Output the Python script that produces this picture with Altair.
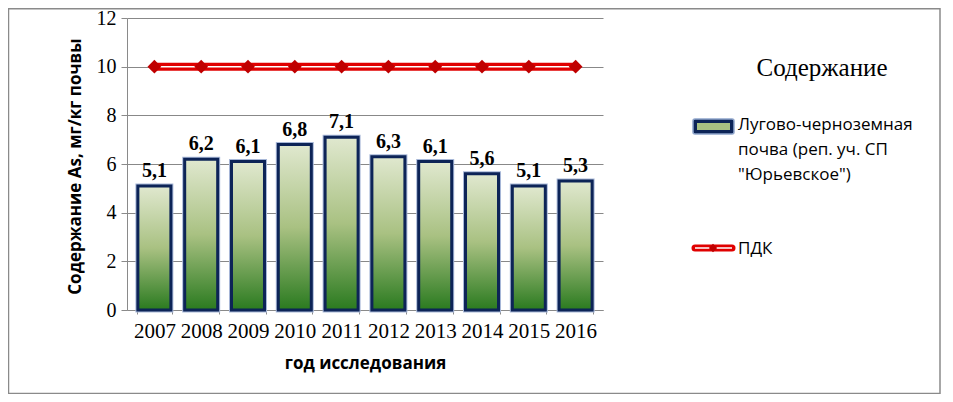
import altair as alt
import pandas as pd

years = ["2007", "2008", "2009", "2010", "2011", "2012", "2013", "2014", "2015", "2016"]
soil_values = [5.1, 6.2, 6.1, 6.8, 7.1, 6.3, 6.1, 5.6, 5.1, 5.3]
pdk_values = [10, 10, 10, 10, 10, 10, 10, 10, 10, 10]
legend_title = "Содержание"
series_soil = ["Лугово-черноземная", "почва (реп. уч. СП", "\"Юрьевское\")"]
series_pdk = "ПДК"

df = pd.DataFrame({"year": years, "soil": soil_values, "pdk": pdk_values})

W, H = 476, 292
SERIF = "Liberation Serif"
SANS = "Open Sans"

x_enc = alt.X("year:N", sort=years,
              scale=alt.Scale(paddingInner=0.25, paddingOuter=0.21),
              axis=alt.Axis(title="год исследования", labelAngle=0, labelFont=SERIF,
                            labelFontSize=21, labelColor="#000", labelPadding=6,
                            ticks=True, tickSize=4, tickColor="#8a8a8a", tickBand="extent",
                            domainColor="#8a8a8a", titleFont=SANS, titleFontSize=17,
                            titleFontWeight="bold", titleColor="#000", titlePadding=14))
y_scale = alt.Scale(domain=[0, 12], nice=False)
y_axis = alt.Axis(title="Содержание As, мг/кг почвы", values=[0, 2, 4, 6, 8, 10, 12],
                  labelFont=SERIF, labelFontSize=20, labelColor="#000", labelPadding=5,
                  tickSize=6, tickColor="#8a8a8a", domainColor="#8a8a8a",
                  gridColor="#888888", gridOpacity=1, gridWidth=1, grid=True,
                  titleFont=SANS, titleFontSize=17, titleFontWeight="bold", titleColor="#000",
                  titleX=-52, titleY=148, titleAngle=-90, titleAlign="center",
                  titleBaseline="middle")

base = alt.Chart(df)

bar_outer = base.mark_bar(fill="#b9c8e0", stroke="#a8b8d8", strokeWidth=5, size=33).encode(
    x=x_enc, y=alt.Y("soil:Q", scale=y_scale, axis=y_axis))
bar_inner = base.mark_bar(
    size=33, stroke="#0d2457", strokeWidth=3,
    color=alt.Gradient(gradient="linear", x1=0, y1=0, x2=0, y2=1,
                       stops=[alt.GradientStop(color="#e0e8cf", offset=0),
                              alt.GradientStop(color="#a9c182", offset=0.5),
                              alt.GradientStop(color="#2a7a1f", offset=1)])).encode(
    x=alt.X("year:N", sort=years), y=alt.Y("soil:Q", scale=y_scale))

labels = base.transform_calculate(
    lab="replace(format(datum.soil, '.1f'), '.', ',')").mark_text(
    font=SERIF, fontSize=20, fontWeight="bold", color="#000", dy=-15).encode(
    x=alt.X("year:N", sort=years), y=alt.Y("soil:Q", scale=y_scale), text="lab:N")

line_red = base.mark_line(color="#e00000", strokeWidth=8).encode(
    x=alt.X("year:N", sort=years), y=alt.Y("pdk:Q", scale=y_scale))
line_white = base.mark_line(color="#ffffff", strokeWidth=1.5).encode(
    x=alt.X("year:N", sort=years), y=alt.Y("pdk:Q", scale=y_scale))
diamonds = base.mark_point(shape="diamond", filled=True, color="#c00000", size=190,
                           opacity=1).encode(
    x=alt.X("year:N", sort=years), y=alt.Y("pdk:Q", scale=y_scale))

# legend (manual)
leg_title = alt.Chart(pd.DataFrame({"t": [legend_title]})).mark_text(
    font=SERIF, fontSize=25, color="#000", align="center", baseline="middle").encode(
    x=alt.value(695), y=alt.value(50), text="t:N")
leg_soil_text = alt.Chart(pd.DataFrame({"t": ["\n".join(series_soil)]})).mark_text(
    font=SANS, fontSize=17, color="#000", align="left", baseline="top",
    lineBreak="\n", lineHeight=25).encode(
    x=alt.value(611), y=alt.value(99), text="t:N")
leg_soil_sym_outer = alt.Chart(pd.DataFrame({"a": [0]})).mark_rect(
    fill="#0d2457", stroke="#8fa5cc", strokeWidth=1.5, cornerRadius=2).encode(
    x=alt.value(566), x2=alt.value(607), y=alt.value(101), y2=alt.value(116))
leg_soil_sym_inner = alt.Chart(pd.DataFrame({"a": [0]})).mark_rect(
    fill="#a9c182").encode(
    x=alt.value(570), x2=alt.value(603), y=alt.value(105), y2=alt.value(112))
leg_pdk_line = alt.Chart(pd.DataFrame({"a": [0]})).mark_rule(
    color="#e00000", strokeWidth=7, strokeCap="round").encode(
    x=alt.value(568), x2=alt.value(605), y=alt.value(230))
leg_pdk_line_w = alt.Chart(pd.DataFrame({"a": [0]})).mark_rule(
    color="#ffffff", strokeWidth=1.5).encode(
    x=alt.value(568), x2=alt.value(605), y=alt.value(230))
leg_pdk_pt = alt.Chart(pd.DataFrame({"a": [0]})).mark_point(
    shape="diamond", filled=True, color="#c00000", size=70, opacity=1).encode(
    x=alt.value(586), y=alt.value(230))
leg_pdk_text = alt.Chart(pd.DataFrame({"t": [series_pdk]})).mark_text(
    font=SANS, fontSize=17, color="#000", align="left", baseline="middle").encode(
    x=alt.value(611), y=alt.value(231), text="t:N")

border = alt.Chart(pd.DataFrame({"a": [0]})).mark_rect(
    fill=None, stroke="#8a8a8a", strokeWidth=1.5, filled=False).encode(
    x=alt.value(-118.5), x2=alt.value(813), y=alt.value(-9.25), y2=alt.value(375.5))

chart = alt.layer(
    bar_outer, bar_inner, labels, line_red, line_white, diamonds,
    leg_title, leg_soil_text, leg_soil_sym_outer, leg_soil_sym_inner,
    leg_pdk_line, leg_pdk_line_w, leg_pdk_pt, leg_pdk_text, border
).properties(
    width=W, height=H,
    autosize=alt.AutoSizeParams(type="none"),
    padding={"left": 119, "top": 10, "right": 342, "bottom": 84},
    background="#ffffff"
).configure_view(stroke=None).configure_axisX(grid=False)

chart.save("out.html", embed_options={"renderer": "svg", "actions": False})
